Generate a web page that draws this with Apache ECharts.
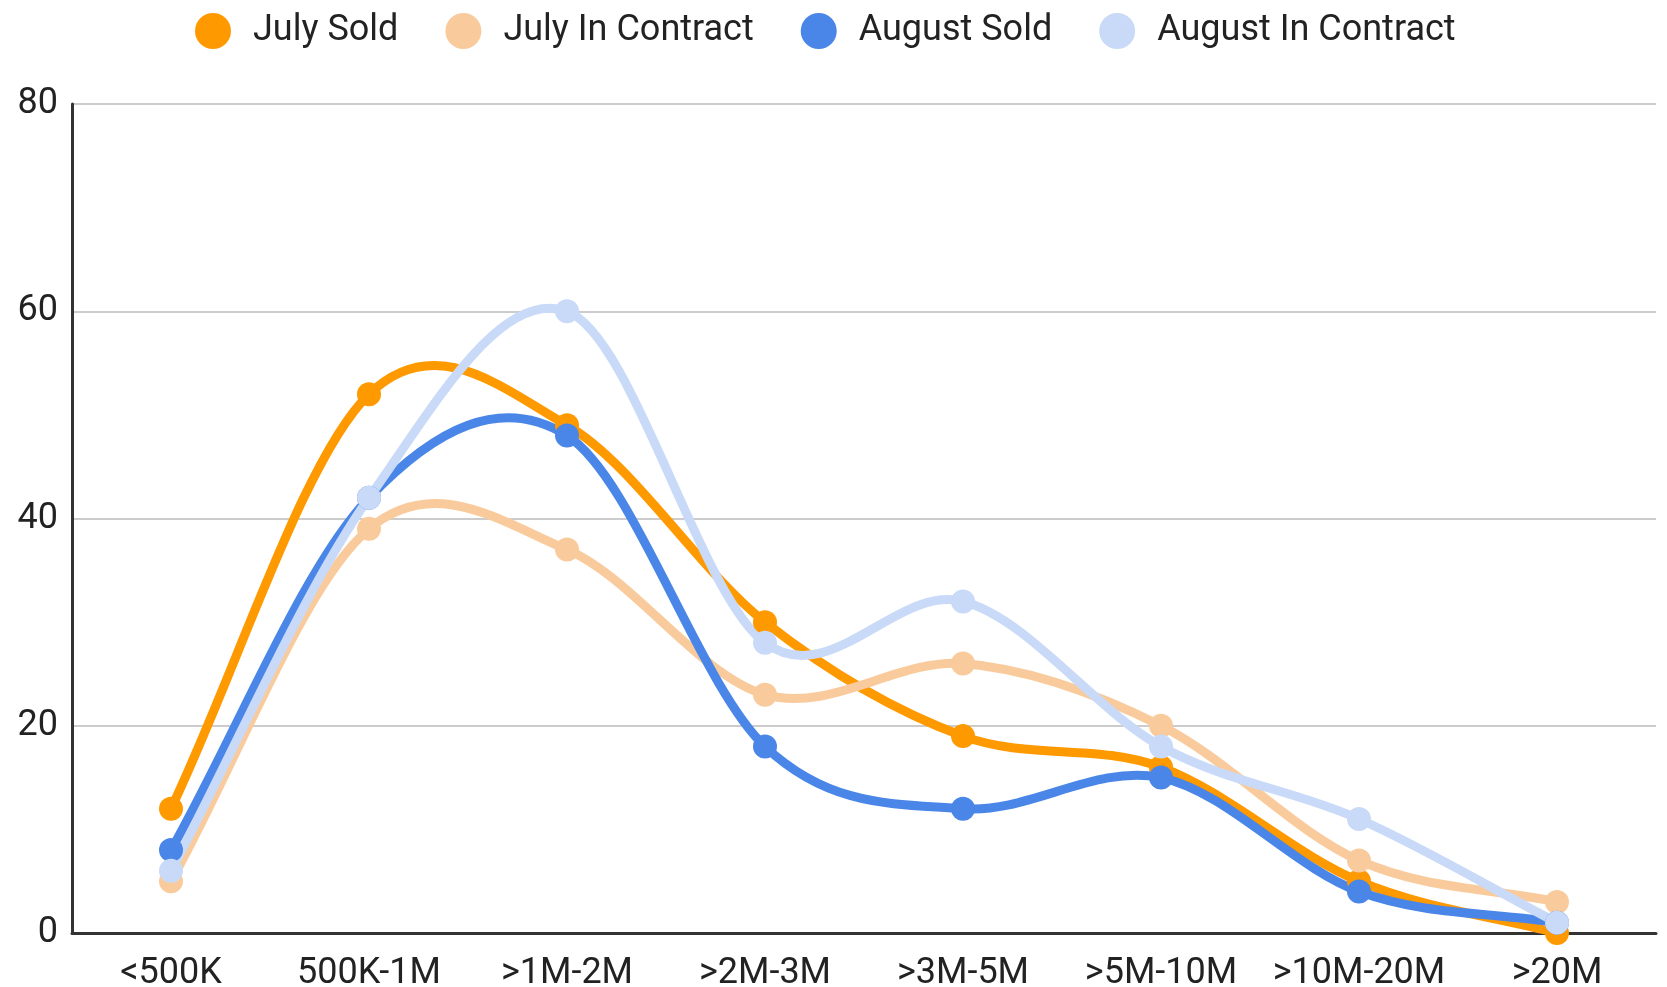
<!DOCTYPE html>
<html>
<head>
<meta charset="utf-8">
<script src="https://cdn.jsdelivr.net/npm/echarts@6/dist/echarts.min.js"></script>
<style>
  html, body { margin: 0; padding: 0; background: #fff; }
  #chart { width: 1667px; height: 987px; }
</style>
</head>
<body>
<div id="chart"></div>
<script>
// price buckets
const categories = ["<500K", "500K-1M", ">1M-2M", ">2M-3M", ">3M-5M", ">5M-10M", ">10M-20M", ">20M"];

const julySold = [12, 52, 49, 30, 19, 16, 5, 0];
const julyInContract = [5, 39, 37, 23, 26, 20, 7, 3];
const augustSold = [8, 42, 48, 18, 12, 15, 4, 1];
const augustInContract = [6, 42, 60, 28, 32, 18, 11, 1];

const seriesNames = ["July Sold", "July In Contract", "August Sold", "August In Contract"];
const seriesColors = ["#ff9900", "#f9cb9c", "#4a86e8", "#c9daf8"];
const seriesData = [julySold, julyInContract, augustSold, augustInContract];

const chart = echarts.init(document.getElementById("chart"));

// catmull-rom style curve, one bezier per segment, points come from api.coord
function curveRenderer(values, color) {
  return function (params, api) {
    const i = params.dataIndex;
    const n = values.length;
    if (i >= n - 1) return;
    const pt = (k) => api.coord([k, values[k]]);
    const p0 = pt(i);
    const p1 = pt(i + 1);
    const prev = i > 0 ? pt(i - 1) : null;
    const next = i + 2 < n ? pt(i + 2) : null;
    // tangents
    const m0 = prev ? [(p1[0] - prev[0]) / 2, (p1[1] - prev[1]) / 2] : [p1[0] - p0[0], p1[1] - p0[1]];
    const m1 = next ? [(next[0] - p0[0]) / 2, (next[1] - p0[1]) / 2] : [p1[0] - p0[0], p1[1] - p0[1]];
    return {
      type: "bezierCurve",
      shape: {
        x1: p0[0], y1: p0[1],
        x2: p1[0], y2: p1[1],
        cpx1: p0[0] + m0[0] / 3, cpy1: p0[1] + m0[1] / 3,
        cpx2: p1[0] - m1[0] / 3, cpy2: p1[1] - m1[1] / 3,
      },
      style: { fill: null, stroke: color, lineWidth: 9, lineCap: "round" },
    };
  };
}

let series = [];
for (let i = 0; i < seriesNames.length; i++) {
  series.push({
    name: seriesNames[i],
    type: "custom",
    renderItem: curveRenderer(seriesData[i], seriesColors[i]),
    data: seriesData[i].map((v, k) => [k, v]),
    itemStyle: { color: seriesColors[i] },
    silent: true,
    animation: false,
  });
  series.push({
    name: seriesNames[i],
    type: "scatter",
    data: seriesData[i],
    symbol: "circle",
    symbolSize: 24,
    itemStyle: { color: seriesColors[i], opacity: 1 },
    animation: false,
  });
}

const option = {
  backgroundColor: "#fff",
  color: seriesColors,
  textStyle: { fontFamily: "Roboto" },
  legend: {
    top: 8,
    left: 190,
    icon: "circle",
    itemWidth: 70,
    itemHeight: 36,
    itemGap: 47,
    textStyle: { fontSize: 36, color: "#222", fontFamily: "Roboto" },
    data: seriesNames,
  },
  grid: {
    left: 72,
    right: 11,
    top: 104,
    bottom: 54,
    outerBoundsMode: "none",
  },
  xAxis: {
    type: "category",
    data: categories,
    axisLine: { lineStyle: { color: "#333", width: 3 } },
    axisTick: { show: false },
    axisLabel: { fontSize: 36, color: "#222", margin: 23, interval: 0 },
  },
  yAxis: {
    type: "value",
    min: 0,
    max: 80,
    interval: 20,
    axisLine: { show: true, lineStyle: { color: "#333", width: 3 } },
    axisTick: { show: false },
    axisLabel: { fontSize: 36, color: "#222", margin: 14, padding: [10, 0, 0, 0] },
    splitLine: { lineStyle: { color: "#ccc", width: 2 } },
  },
  series: series,
};
chart.setOption(option);
</script>
</body>
</html>
